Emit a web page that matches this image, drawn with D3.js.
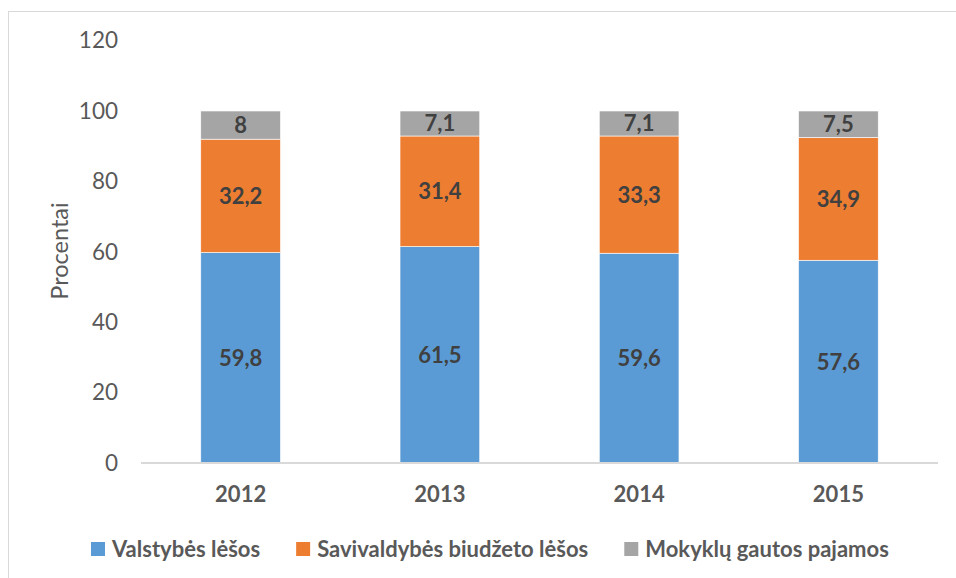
<!DOCTYPE html>
<html>
<head>
<meta charset="utf-8">
<script src="https://cdn.jsdelivr.net/npm/d3@7/dist/d3.min.js"></script>
<style>
  html, body { margin: 0; padding: 0; background: #fff; }
  svg { display: block; }
  text { font-family: Lato, "Open Sans", sans-serif; }
</style>
</head>
<body>
<svg id="chart" width="956" height="578"></svg>
<script>
const years = ["2012", "2013", "2014", "2015"];
const seriesNames = ["Valstybės lėšos", "Savivaldybės biudžeto lėšos", "Mokyklų gautos pajamos"];
const valstybes = [59.8, 61.5, 59.6, 57.6];
const savivaldybes = [32.2, 31.4, 33.3, 34.9];
const mokyklu = [8, 7.1, 7.1, 7.5];
const yTicks = [0, 20, 40, 60, 80, 100, 120];
const colors = ["#5B9BD5", "#ED7D31", "#A5A5A5"];
const yTitle = "Procentai";

const svg = d3.select("#chart");
const W = 956, H = 578;
const margin = { left: 141, right: 18, top: 40.6, bottom: 115 };

// border
svg.append("rect")
  .attr("x", 8.5).attr("y", 11.5)
  .attr("width", W + 10).attr("height", H + 10)
  .attr("fill", "none").attr("stroke", "#D9D9D9").attr("stroke-width", 1);

const x = d3.scaleBand().domain(years)
  .range([margin.left, W - margin.right]).paddingInner(0.6).paddingOuter(0.3);
const y = d3.scaleLinear().domain([0, 120]).range([463, margin.top]);

const data = years.map((yr, i) => ({ year: yr, s0: valstybes[i], s1: savivaldybes[i], s2: mokyklu[i] }));
const stack = d3.stack().keys(["s0", "s1", "s2"]);
const stacked = stack(data);

// y axis labels
const yAxis = d3.axisLeft(y).tickValues(yTicks).tickSize(0).tickPadding(0).tickFormat(d3.format("d"));
const gy = svg.append("g").attr("transform", "translate(118,0)").call(yAxis);
gy.select(".domain").remove();
gy.selectAll("text").attr("fill", "#595959").style("font-size", "22.5px").style("font-family", "Lato, sans-serif");

// bars
const fmt = v => String(v).replace(".", ",");
stacked.forEach((layer, li) => {
  const g = svg.append("g");
  g.selectAll("rect").data(layer).enter().append("rect")
    .attr("x", d => x(d.data.year))
    .attr("width", x.bandwidth())
    .attr("y", d => y(d[1]))
    .attr("height", d => y(d[0]) - y(d[1]))
    .attr("fill", colors[li])
    .attr("stroke", "#fff").attr("stroke-width", 0.6);
  g.selectAll("text").data(layer).enter().append("text")
    .attr("x", d => x(d.data.year) + x.bandwidth() / 2)
    .attr("y", d => (y(d[0]) + y(d[1])) / 2)
    .attr("dy", "0.36em")
    .attr("text-anchor", "middle")
    .attr("fill", "#404040")
    .style("font-size", "22px").style("font-weight", "bold")
    .text(d => fmt(+(d[1] - d[0]).toFixed(1)));
});

// x axis
const xAxis = d3.axisBottom(x).tickSize(0).tickPadding(0);
const gx = svg.append("g").attr("transform", "translate(0,463)").call(xAxis);
gx.select(".domain").attr("stroke", "#D9D9D9").attr("stroke-width", 2)
  .attr("d", `M${margin.left},0H${W - margin.right}`);
gx.selectAll("text").attr("fill", "#595959").attr("dy", 0).attr("y", 39)
  .style("font-size", "22px").style("font-weight", "bold").style("font-family", "Lato, sans-serif");

// y title
svg.append("text")
  .attr("transform", "translate(68,251) rotate(-90)")
  .attr("text-anchor", "middle")
  .attr("fill", "#595959")
  .style("font-size", "23.5px")
  .text(yTitle);

// legend
const legend = svg.append("g");
let lx = 91;
seriesNames.forEach((name, i) => {
  legend.append("rect").attr("x", lx).attr("y", 542).attr("width", 14).attr("height", 14).attr("fill", colors[i]);
  const t = legend.append("text").attr("x", lx + 21).attr("y", 557)
    .attr("fill", "#595959").style("font-size", "22px").style("font-weight", "bold").text(name);
  const w = t.node().getComputedTextLength();
  lx = lx + 21 + w + 36;
});
</script>
</body>
</html>
